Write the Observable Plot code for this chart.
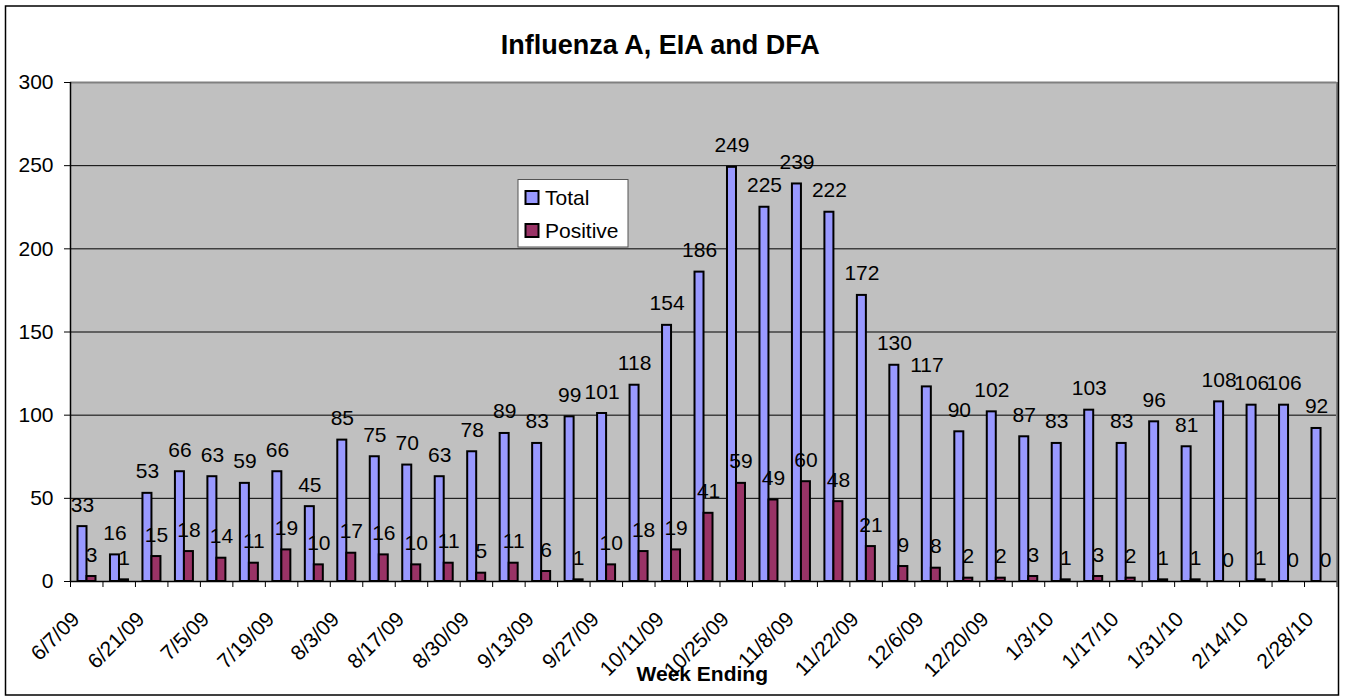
<!DOCTYPE html>
<html><head><meta charset="utf-8">
<script src="https://cdn.jsdelivr.net/npm/d3@7"></script>
<script src="https://cdn.jsdelivr.net/npm/@observablehq/plot@0.6"></script>
<style>body{margin:0;background:#fff;} #chart svg{display:block}</style>
</head><body><div id="chart"></div>
<script>
const weeks = ["6/7/09","6/14/09","6/21/09","6/28/09","7/5/09","7/12/09","7/19/09","7/26/09","8/3/09","8/9/09","8/17/09","8/23/09","8/30/09","9/6/09","9/13/09","9/20/09","9/27/09","10/4/09","10/11/09","10/18/09","10/25/09","11/1/09","11/8/09","11/15/09","11/22/09","11/29/09","12/6/09","12/13/09","12/20/09","12/27/09","1/3/10","1/10/10","1/17/10","1/24/10","1/31/10","2/7/10","2/14/10","2/21/10","2/28/10"];
const totals = [33,16,53,66,63,59,66,45,85,75,70,63,78,89,83,99,101,118,154,186,249,225,239,222,172,130,117,90,102,87,83,103,83,96,81,108,106,106,92];
const positives = [3,1,15,18,14,11,19,10,17,16,10,11,5,11,6,1,10,18,19,41,59,49,60,48,21,9,8,2,2,3,1,3,2,1,1,0,1,0,0];
const yTicks = [0,50,100,150,200,250,300];
const seriesNames = ["Total","Positive"];
const seriesColors = ["#9999FF","#993366"];
const chartTitle = "Influenza A, EIA and DFA";
const xTitle = "Week Ending";

const data = weeks.map((w,i)=>({i, week:w, total:totals[i], positive:positives[i]}));
const labeled = data.filter(d => d.i % 2 === 0);
const W=1346, H=700, mL=70, mR=9.5, mT=82, mB=119;
const bw = (W-mL-mR)/weeks.length;
const font = "'Liberation Sans', Arial, sans-serif";

const svg = Plot.plot({
  width: W, height: H, marginLeft: mL, marginRight: mR, marginTop: mT, marginBottom: mB,
  style: {fontFamily: font, fontSize: "21px", color: "black", background: "white", overflow: "visible"},
  x: {type: "linear", domain: [0, weeks.length], axis: null},
  y: {domain: [0, 300], axis: null},
  marks: [
    Plot.frame({fill: "#C0C0C0"}),
    Plot.ruleY(yTicks.filter(v => v > 0 && v < 300), {stroke: "#000", strokeWidth: 1}),
    Plot.ruleY([300], {stroke: "#808080", strokeWidth: 2}),
    Plot.ruleX([weeks.length], {stroke: "#808080", strokeWidth: 2}),
    Plot.rect(data, {x1: d => d.i, x2: d => d.i + 1, y1: 0, y2: "total", insetLeft: 7.5, insetRight: bw - 16.5, fill: seriesColors[0], stroke: "#000", strokeWidth: 2}),
    Plot.rect(data, {x1: d => d.i, x2: d => d.i + 1, y1: 0, y2: "positive", insetLeft: 16.5, insetRight: bw - 25.5, fill: seriesColors[1], stroke: "#000", strokeWidth: 2}),
    Plot.ruleX([0], {stroke: "#000", strokeWidth: 1.5}),
    Plot.ruleY([0], {stroke: "#000", strokeWidth: 1.5}),
    Plot.axisY({ticks: yTicks, tickSize: 6, tickPadding: 11, fontSize: 21, label: null}),
    Plot.axisX({ticks: d3.range(0, weeks.length + 1), tickFormat: () => "", tickSize: 6, label: null}),
    Plot.text(data, {x: d => d.i + 0.5, y: "total", text: d => String(d.total), dx: -4.2, dy: -15, lineAnchor: "bottom", fontSize: 21}),
    Plot.text(data, {x: d => d.i + 0.5, y: "positive", text: d => String(d.positive), dx: 4.8, dy: -15, lineAnchor: "bottom", fontSize: 21}),
    Plot.text(labeled, {x: d => d.i + 0.5, frameAnchor: "bottom", text: "week", rotate: -45, textAnchor: "end", lineAnchor: "bottom", dx: -6, dy: 39, fontSize: 21}),
    Plot.text([chartTitle], {frameAnchor: "top", text: d => d, lineAnchor: "bottom", dx: -43.5, dy: -29, fontSize: 27, fontWeight: "bold"}),
    Plot.text([xTitle], {frameAnchor: "bottom", text: d => d, lineAnchor: "bottom", dx: -1.5, dy: 99, fontSize: 21, fontWeight: "bold"})
  ]
});

const s = d3.select(svg);
// outer chart border
s.append("rect").attr("x", 5.5).attr("y", 6).attr("width", 1333).attr("height", 689)
  .attr("fill", "none").attr("stroke", "#000").attr("stroke-width", 1.5);
// legend
const lg = s.append("g").attr("font-family", font).attr("font-size", 21).attr("text-anchor", "start");
lg.append("rect").attr("x", 518).attr("y", 179.5).attr("width", 110).attr("height", 67.5)
  .attr("fill", "#fff").attr("stroke", "#555").attr("stroke-width", 1);
seriesNames.forEach((name, k) => {
  const y0 = 191 + k * 33;
  lg.append("rect").attr("x", 525.5).attr("y", y0).attr("width", 13).attr("height", 13)
    .attr("fill", seriesColors[k]).attr("stroke", "#000").attr("stroke-width", 2);
  lg.append("text").attr("x", 545).attr("y", y0 + 13.5).attr("fill", "#000").attr("text-anchor", "start").text(name);
});
document.getElementById("chart").appendChild(svg);
</script>
</body></html>
